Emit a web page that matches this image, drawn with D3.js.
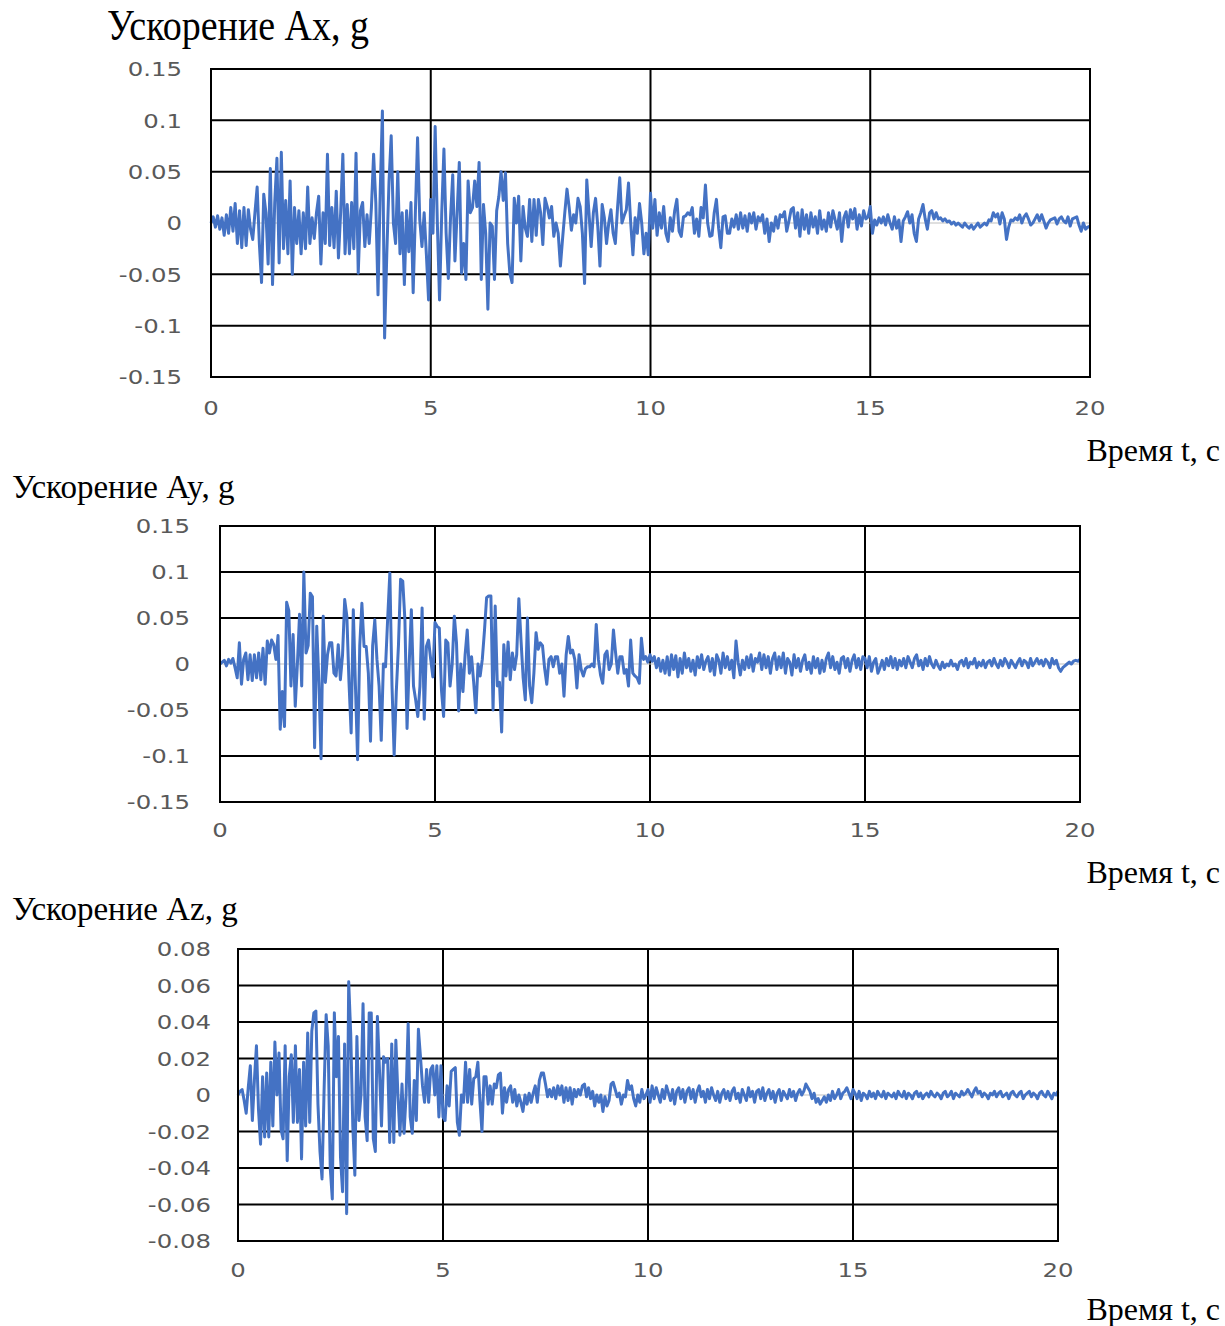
<!DOCTYPE html>
<html>
<head>
<meta charset="utf-8">
<script src="https://cdn.jsdelivr.net/npm/d3@7"></script>
<style>
  body { margin: 0; background: #fff; }
  svg { display: block; }
</style>
</head>
<body>
<div id="chart-area"></div>
<script>
// Time span of the records (s) and x ticks
var timeEnd = 20;
var xTicks = [0, 5, 10, 15, 20];

var ticksAxy = [-0.15, -0.1, -0.05, 0, 0.05, 0.1, 0.15];
var ticksAz = [-0.08, -0.06, -0.04, -0.02, 0, 0.02, 0.04, 0.06, 0.08];

var titles = ["Ускорение Ax, g", "Ускорение Ay, g", "Ускорение Az, g"];
var timeLabel = "Время t, с";

// Ax, g  (every 0.05 s)
var axValues = [
  0, 0.006, -0.004, 0.007, -0.006, 0.005, -0.012, 0.008, -0.01, 0.015, -0.008, 0.019, -0.02, 0.012, -0.024, 0.015, -0.022, 0.013, -0.006, -0.016,
  0.01, 0.035, -0.02, -0.058, 0.028, 0.01, -0.04, 0.053, -0.06, 0.02, 0.063, -0.039, 0.069, -0.025, 0.022, -0.03, 0.041, -0.05, 0.015, -0.02,
  0.012, -0.03, 0.01, -0.025, 0.035, -0.02, 0.005, -0.015, 0.01, 0.026, -0.04, 0.01, -0.02, 0.067, -0.022, 0.015, -0.024, 0.031, -0.034, 0.01,
  0.067, -0.03, 0.018, -0.03, 0.02, -0.025, 0.068, -0.049, 0.012, 0.02, -0.023, 0.008, -0.02, 0.015, 0.067, 0.02, -0.07, 0.03, 0.109, -0.112,
  -0.03, 0.04, 0.085, 0.0, -0.02, 0.05, -0.03, 0.01, -0.06, 0.012, -0.028, 0.02, -0.068, 0.01, 0.083, 0.003, -0.023, 0.01, -0.03, -0.075,
  0.023, -0.01, 0.094, 0.0, -0.075, 0.01, 0.072, -0.01, -0.054, 0.005, 0.047, -0.037, 0.01, 0.059, -0.049, -0.02, -0.055, 0.041, 0.01, 0.015,
  0.041, 0.016, 0.059, -0.055, 0.018, -0.01, -0.084, 0.0, -0.003, -0.055, 0.012, 0.026, 0.05, 0.022, 0.049, -0.02, -0.049, -0.058, 0.024, 0.0,
  0.026, -0.037, 0.016, -0.005, -0.013, 0.023, -0.018, 0.023, -0.012, 0.023, 0.01, -0.021, 0.024, 0.016, 0.005, 0.016, -0.013, 0.0, -0.01, -0.042,
  -0.015, 0.01, 0.033, 0.015, -0.007, 0.008, 0.0, 0.024, 0.016, -0.01, -0.059, 0.042, 0.01, -0.023, 0.01, 0.024, -0.003, -0.042, 0.018, 0.005,
  -0.02, 0.0, 0.013, -0.01, -0.02, 0.015, 0.044, 0.0, 0.007, 0.013, 0.039, 0.0, -0.031, 0.005, -0.01, 0.019, 0.0, -0.03, -0.01, -0.031,
  0.029, -0.005, 0.023, -0.012, 0.01, -0.005, 0.016, -0.01, -0.018, 0.005, -0.008, 0.012, 0.023, -0.008, -0.013, 0.006, 0.007, 0.01, 0.008, 0.015,
  -0.01, 0.004, -0.013, 0.015, 0.005, 0.037, 0.0, -0.013, -0.012, 0.01, 0.023, -0.005, -0.024, 0.006, 0.007, -0.01, -0.01, 0.004, -0.004, 0.008,
  -0.006, 0.01, -0.005, 0.007, -0.008, 0.009, 0.0, 0.01, -0.006, 0.006, 0.002, 0.008, -0.01, 0.004, -0.018, 0.0, -0.008, 0.006, -0.005, 0.008,
  0.006, 0.011, -0.008, 0.002, 0.013, 0.015, -0.005, 0.01, -0.013, 0.013, -0.006, 0.008, -0.01, 0.01, -0.004, 0.006, -0.01, 0.012, -0.006, 0.003,
  -0.008, 0.01, -0.004, 0.012, 0.003, -0.006, 0.01, -0.018, 0.005, 0.011, -0.004, 0.013, 0.004, 0.014, -0.006, 0.008, -0.003, 0.012, 0.004, 0.006,
  0.016, -0.01, 0.003, -0.002, 0.005, 0.0, 0.006, -0.002, 0.008, 0.0, -0.006, 0.006, -0.005, 0.003, -0.018, 0.002, 0.006, 0.011, 0.0, 0.008,
  -0.01, -0.018, 0.004, 0.01, 0.018, 0.004, -0.006, 0.01, 0.012, 0.004, 0.01, 0.004, 0.005, 0.002, 0.004, 0.001, 0.002, -0.001, 0.001, -0.002,
  0.0, -0.002, -0.004, 0.0, -0.003, -0.005, -0.002, -0.006, -0.003, 0.0, -0.004, -0.002, 0.0, -0.002, 0.003, 0.002, 0.01, 0.006, 0.009, -0.001,
  0.01, 0.004, -0.016, -0.004, 0.003, 0.002, 0.005, 0.003, 0.008, 0.0, 0.006, 0.009, 0.004, -0.002, 0.0, 0.004, 0.008, 0.002, 0.008, 0.002,
  -0.005, 0.0, 0.003, 0.004, 0.005, -0.001, 0.004, 0.006, 0.002, 0.0, 0.006, -0.003, 0.004, 0.005, 0.006, -0.002, -0.008, 0.0, -0.006, -0.004, -0.003
];

// Ay, g
var ayValues = [
  0, 0.002, 0.004, -0.002, 0.005, 0.001, 0.006, -0.004, -0.015, 0.023, -0.022, 0.005, 0.012, -0.017, 0.01, -0.018, 0.01, -0.015, 0.012, -0.017,
  0.017, -0.022, 0.025, 0.012, 0.026, 0.021, 0.005, 0.031, -0.071, -0.03, -0.068, 0.067, 0.058, -0.024, 0.032, -0.046, 0.0, 0.054, -0.024, 0.1,
  0.012, 0.02, 0.077, 0.073, -0.091, 0.041, -0.02, -0.103, 0.052, -0.02, 0.01, 0.023, 0.023, -0.01, -0.013, 0.021, -0.017, 0.01, 0.07, 0.052,
  -0.02, -0.075, 0.059, -0.024, -0.104, 0.02, 0.066, 0.019, 0.019, -0.01, -0.084, 0.02, 0.048, 0.005, -0.024, -0.083, 0.0, -0.003, 0.05, 0.099,
  -0.024, -0.099, -0.03, 0.02, 0.092, 0.09, 0.048, -0.07, 0.0, 0.059, -0.024, -0.039, -0.057, -0.024, 0.061, -0.06, 0.019, 0.026, 0.005, -0.014,
  0.045, 0.041, 0.039, -0.028, -0.057, 0.026, 0.023, -0.024, 0.0, 0.052, 0.023, -0.051, 0.0, -0.03, 0.01, 0.037, -0.01, 0.008, -0.02, -0.053,
  0.0, -0.013, 0.005, 0.036, 0.072, 0.074, 0.074, -0.05, 0.063, -0.024, -0.02, -0.074, 0.021, -0.013, 0.024, -0.017, 0.012, -0.006, 0.01, 0.071,
  0.026, -0.015, -0.039, 0.05, -0.024, -0.042, -0.01, 0.034, 0.016, 0.023, 0.02, -0.005, -0.022, 0.005, 0.008, -0.003, 0.008, 0.008, -0.01, 0.0,
  -0.035, 0.01, 0.03, 0.012, 0.015, 0.005, -0.026, 0.01, -0.006, -0.013, -0.005, -0.003, -0.003, 0.0, -0.003, 0.043, 0.005, -0.012, -0.021, 0.01,
  0.014, -0.006, 0.0, 0.037, 0.012, -0.01, 0.008, 0.008, -0.01, -0.006, -0.024, 0.026, -0.01, -0.013, -0.015, -0.021, 0.028, 0.005, 0.008, 0.002,
  0.01, 0.003, 0.008, -0.004, 0.006, -0.008, 0.004, -0.01, 0.008, -0.012, 0.01, -0.006, 0.009, -0.014, 0.006, -0.01, 0.012, -0.004, 0.006, -0.008,
  0.004, -0.012, 0.008, -0.004, 0.01, -0.006, 0.003, 0.008, -0.008, 0.006, -0.012, 0.01, 0.004, -0.01, 0.012, -0.004, 0.008, -0.006, 0.004, -0.015,
  0.025, 0.002, -0.012, 0.004, -0.006, 0.008, -0.004, 0.01, -0.008, 0.006, 0.002, 0.012, -0.006, 0.01, -0.004, 0.008, -0.01, 0.006, 0.012, -0.006,
  0.008, -0.004, 0.012, -0.01, 0.006, 0.002, -0.012, 0.01, -0.004, 0.006, -0.008, 0.004, 0.01, -0.006, 0.002, -0.01, 0.008, -0.004, 0.006, -0.01,
  0.004, -0.008, 0.006, 0.012, -0.004, 0.008, -0.006, 0.002, -0.01, 0.006, 0.008, -0.004, 0.006, -0.008, 0.004, 0.01, -0.004, 0.006, -0.006, 0.008,
  0.006, -0.004, 0.008, -0.008, 0.002, 0.006, -0.01, -0.004, 0.004, -0.006, 0.006, -0.002, 0.008, -0.004, 0.006, -0.006, 0.004, -0.002, 0.006, -0.004,
  0.008, 0.002, -0.004, 0.006, 0.01, -0.002, 0.004, -0.006, 0.006, -0.002, 0.008, 0.0, -0.004, 0.004, -0.002, -0.006, 0.002, -0.004, 0.0, -0.002,
  0.004, -0.002, 0.0, -0.006, 0.002, 0.004, -0.002, 0.006, -0.004, 0.002, 0.0, 0.006, -0.004, 0.002, -0.002, 0.004, -0.004, 0.002, 0.004, -0.002,
  0.006, 0.0, -0.004, 0.004, -0.002, 0.006, 0.002, -0.004, 0.004, 0.0, -0.004, 0.002, 0.006, -0.002, 0.004, 0.002, -0.004, 0.006, -0.002, 0.002,
  0.006, 0.0, 0.004, -0.002, 0.005, 0.002, -0.004, 0.006, 0.0, 0.004, -0.004, -0.008, -0.004, -0.002, 0.0, 0.002, 0.0, 0.003, 0.004, 0.003, 0.005
];

// Az, g
var azValues = [
  0.0, 0.002, 0.003, -0.003, -0.01, 0.004, 0.016, -0.014, 0.008, 0.027, -0.008, -0.027, 0.01, -0.023, 0.012, -0.023, 0.018, -0.017, 0.029, 0.0,
  0.023, -0.019, -0.024, 0.027, -0.036, 0.01, 0.022, -0.015, 0.027, -0.015, 0.014, -0.035, 0.018, -0.017, 0.034, -0.015, 0.035, 0.045, 0.046, -0.005,
  -0.031, -0.046, 0.003, 0.044, 0.027, -0.04, -0.057, 0.045, 0.01, 0.032, -0.034, -0.053, 0.028, -0.065, 0.062, 0.033, -0.017, -0.044, 0.032, -0.014,
  0.0, 0.05, -0.012, -0.025, 0.045, 0.045, -0.024, -0.031, 0.043, 0.014, -0.017, 0.021, 0.018, 0.02, -0.026, 0.028, -0.026, 0.03, 0.0, -0.022,
  0.006, -0.021, 0.0, 0.039, -0.012, -0.021, 0.008, -0.014, 0.036, 0.021, 0.005, -0.004, 0.014, -0.004, 0.014, 0.016, 0.0, 0.016, -0.012, 0.016,
  -0.012, -0.014, 0.005, -0.006, 0.013, 0.014, 0.015, -0.015, -0.022, 0.0, -0.004, 0.018, -0.004, 0.014, -0.005, 0.009, 0.01, 0.018, -0.003, -0.02,
  0.01, 0.01, -0.005, 0.005, -0.005, 0.006, 0.004, 0.011, 0.012, -0.01, 0.004, -0.004, 0.003, 0.005, -0.004, 0.003, -0.006, 0.0, -0.004, -0.009,
  0.0, -0.005, 0.001, -0.004, 0.001, 0.005, -0.004, 0.008, 0.012, 0.012, 0.006, -0.001, 0.003, -0.001, 0.004, -0.002, 0.005, 0.0, 0.005, -0.004,
  0.004, -0.003, 0.004, -0.005, 0.003, -0.001, 0.003, 0.0, 0.005, 0.006, -0.001, 0.004, -0.002, 0.002, -0.006, 0.0, -0.004, 0.0, -0.009, -0.001,
  -0.006, -0.003, 0.006, 0.007, 0.003, -0.001, 0.001, -0.005, 0.0, -0.001, 0.008, 0.003, 0.005, -0.002, -0.006, 0.0, -0.004, 0.003, -0.002, 0.0,
  0.003, -0.004, 0.005, -0.002, 0.004, 0.0, -0.004, 0.003, -0.002, 0.005, 0.001, -0.003, 0.003, -0.005, 0.002, 0.004, -0.002, 0.003, -0.004, 0.002,
  0.004, -0.002, 0.003, -0.004, 0.002, 0.005, -0.001, 0.002, -0.004, 0.003, -0.002, 0.004, 0.0, -0.003, 0.002, -0.004, 0.001, 0.003, -0.002, 0.002,
  -0.003, 0.002, 0.004, -0.002, 0.001, -0.004, 0.003, 0.0, -0.003, 0.004, -0.001, 0.002, -0.004, 0.002, 0.003, -0.002, 0.004, -0.003, 0.001, 0.003,
  -0.002, 0.002, -0.004, 0.001, 0.003, -0.003, 0.002, 0.0, -0.002, 0.003, -0.001, 0.002, -0.003, 0.001, 0.003, 0.0, 0.002, 0.006, 0.004, 0.002,
  -0.002, 0.001, -0.004, -0.002, -0.005, -0.003, -0.001, -0.004, 0.0, -0.003, 0.002, -0.002, 0.0, 0.003, -0.002, 0.001, 0.002, 0.004, 0.001, -0.002,
  0.003, 0.001, -0.002, 0.002, -0.003, 0.001, 0.0, -0.002, 0.002, -0.001, 0.001, -0.002, 0.002, 0.0, -0.001, 0.002, -0.002, 0.001, 0.0, -0.001,
  0.001, -0.002, 0.002, 0.0, -0.001, 0.002, -0.002, 0.001, 0.0, -0.002, 0.001, 0.002, -0.001, 0.001, -0.002, 0.0, 0.001, -0.001, 0.002, 0.0,
  -0.001, 0.001, 0.0, -0.002, 0.001, 0.002, -0.001, 0.0, 0.002, -0.002, 0.001, 0.0, -0.001, 0.002, 0.0, 0.001, 0.003, 0.001, -0.001, 0.002,
  0.004, 0.001, 0.002, -0.001, 0.001, 0.0, -0.002, 0.001, 0.0, 0.002, -0.001, 0.001, 0.002, -0.001, 0.0, 0.001, -0.002, 0.001, 0.002, 0.0,
  -0.001, 0.001, 0.002, -0.002, 0.0, 0.001, 0.002, -0.001, 0.001, 0.0, -0.002, 0.001, 0.002, 0.0, -0.001, 0.002, 0.0, -0.002, 0.001, 0.0, 0.002
];

var width = 1225;
var height = 1326;
var lineColor = "#4472c4";
var labelColor = "#595959";
var serif = "'Liberation Serif', 'Times New Roman', serif";
var sans = "'DejaVu Sans', Verdana, sans-serif";

var svg = d3.select("#chart-area").append("svg")
    .attr("width", width)
    .attr("height", height)
    .attr("viewBox", "0 0 " + width + " " + height);

svg.append("rect")
    .attr("width", width)
    .attr("height", height)
    .attr("fill", "#fff");

function fmt(v) {
  return String(+v.toFixed(2));
}

// stretch tick labels a bit wider, like the source picture
function widen(sel, k) {
  sel.each(function() {
    var len = this.getComputedTextLength();
    d3.select(this)
        .attr("textLength", len * k)
        .attr("lengthAdjust", "spacingAndGlyphs");
  });
}

function drawChart(cfg) {

  var x = d3.scaleLinear()
      .domain([0, timeEnd])
      .range([cfg.left, cfg.right]);

  var y = d3.scaleLinear()
      .domain([cfg.ticks[0], cfg.ticks[cfg.ticks.length - 1]])
      .range([cfg.bottom, cfg.top]);

  var g = svg.append("g").attr("class", "chart");

  // horizontal grid (zero line is the thin grey axis)
  g.selectAll(".hgrid")
      .data(cfg.ticks.filter(function(d) { return d !== 0; }))
    .enter().append("line")
      .attr("class", "hgrid")
      .attr("x1", cfg.left)
      .attr("x2", cfg.right)
      .attr("y1", function(d) { return y(d); })
      .attr("y2", function(d) { return y(d); })
      .attr("stroke", "#000")
      .attr("stroke-width", 2);

  g.selectAll(".vgrid")
      .data(xTicks)
    .enter().append("line")
      .attr("class", "vgrid")
      .attr("x1", function(d) { return x(d); })
      .attr("x2", function(d) { return x(d); })
      .attr("y1", cfg.top)
      .attr("y2", cfg.bottom)
      .attr("stroke", "#000")
      .attr("stroke-width", 2);

  g.append("line")
      .attr("x1", cfg.left)
      .attr("x2", cfg.right)
      .attr("y1", y(0))
      .attr("y2", y(0))
      .attr("stroke", "#bfbfbf")
      .attr("stroke-width", 1);

  var dt = timeEnd / (cfg.values.length - 1);
  var line = d3.line()
      .x(function(d, i) { return x(i * dt); })
      .y(function(d) { return y(d); });

  g.append("path")
      .datum(cfg.values)
      .attr("fill", "none")
      .attr("stroke", lineColor)
      .attr("stroke-width", 3)
      .attr("stroke-linejoin", "round")
      .attr("d", line);

  // y tick labels
  g.selectAll(".ylab")
      .data(cfg.ticks)
    .enter().append("text")
      .attr("class", "ylab")
      .attr("x", cfg.left - cfg.labelGap)
      .attr("y", function(d) { return y(d); })
      .attr("dy", "0.36em")
      .attr("text-anchor", "end")
      .attr("font-family", sans)
      .attr("font-size", "20px")
      .attr("fill", labelColor)
      .text(fmt)
      .call(widen, 1.22);

  g.selectAll(".xlab")
      .data(xTicks)
    .enter().append("text")
      .attr("class", "xlab")
      .attr("x", function(d) { return x(d); })
      .attr("y", cfg.xLabelY)
      .attr("text-anchor", "middle")
      .attr("font-family", sans)
      .attr("font-size", "20px")
      .attr("fill", labelColor)
      .text(function(d) { return d; })
      .call(widen, 1.22);

  g.append("rect")
      .attr("x", cfg.left)
      .attr("y", cfg.top)
      .attr("width", cfg.right - cfg.left)
      .attr("height", cfg.bottom - cfg.top)
      .attr("fill", "none")
      .attr("stroke", "#000")
      .attr("stroke-width", 2);

  var title = svg.append("text")
      .attr("x", cfg.titleX)
      .attr("y", cfg.titleY)
      .attr("font-family", serif)
      .attr("font-size", cfg.titleSize + "px")
      .attr("fill", "#000")
      .text(cfg.title);
  if (cfg.titleLen) {
    title.attr("textLength", cfg.titleLen).attr("lengthAdjust", "spacingAndGlyphs");
  }

  svg.append("text")
      .attr("x", 1220)
      .attr("y", cfg.timeY)
      .attr("text-anchor", "end")
      .attr("font-family", serif)
      .attr("font-size", "32px")
      .attr("fill", "#000")
      .text(timeLabel);
}

drawChart({
  values: axValues, ticks: ticksAxy, title: titles[0],
  left: 211, right: 1090, top: 69, bottom: 377,
  labelGap: 29, xLabelY: 415,
  titleX: 107, titleY: 40, titleSize: 44, titleLen: 262,
  timeY: 461
});

drawChart({
  values: ayValues, ticks: ticksAxy, title: titles[1],
  left: 220, right: 1080, top: 526, bottom: 802,
  labelGap: 30, xLabelY: 837,
  titleX: 12, titleY: 498, titleSize: 33,
  timeY: 883
});

drawChart({
  values: azValues, ticks: ticksAz, title: titles[2],
  left: 238, right: 1058, top: 949, bottom: 1241,
  labelGap: 27, xLabelY: 1277,
  titleX: 12, titleY: 920, titleSize: 33,
  timeY: 1320
});
</script>
</body>
</html>
